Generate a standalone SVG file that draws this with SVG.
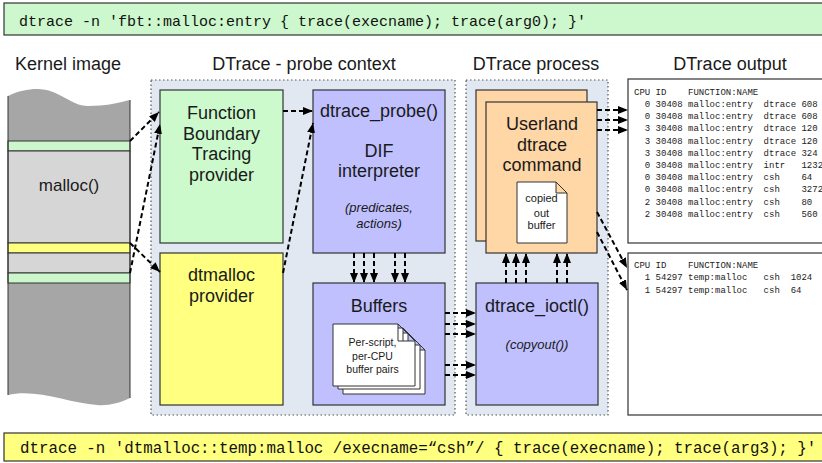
<svg xmlns="http://www.w3.org/2000/svg" width="822" height="463" viewBox="0 0 822 463">
<defs>
<marker id="ah" viewBox="0 0 10 8" refX="10" refY="4" markerWidth="10" markerHeight="8" markerUnits="userSpaceOnUse" orient="auto"><path d="M0,0 L10,4 L0,8 Z" fill="#000"/></marker>
<style>
.cmd{font-family:"Liberation Mono","DejaVu Sans Mono",monospace;fill:#111}
.lbl{font-family:"Liberation Sans",Arial,sans-serif;fill:#1a1a1a;text-anchor:middle;font-size:18px}
.lbl.it{font-style:italic;font-size:13px}
.lbl.sm{font-size:11px}
.lbl.xs{font-size:10.5px}
.lbl.md{font-size:17px}
.box{stroke:#333;stroke-width:1.2}
.ctx{fill:#e1e8f1;stroke:#555;stroke-width:1.2;stroke-dasharray:1.5 2.5}
.out{font-family:"Liberation Mono","DejaVu Sans Mono",monospace;font-size:9px;fill:#222}
.band{stroke:#333;stroke-width:1}
.page{fill:#fff;stroke:#333;stroke-width:1}
.c line{stroke:#000;stroke-width:2;stroke-dasharray:5 3;fill:none;marker-end:url(#ah)}
</style>
</defs>
<rect width="822" height="463" fill="#fff"/>

<g id="cmd-top">
<rect x="4" y="3" width="830" height="32" fill="#cdf7cd" class="box"/>
<text x="19" y="25.5" class="cmd" font-size="15">dtrace -n 'fbt::malloc:entry { trace(execname); trace(arg0); }'</text>
</g>

<g id="headers" class="lbl">
<text x="68" y="70">Kernel image</text>
<text x="304" y="70">DTrace - probe context</text>
<text x="536" y="70">DTrace process</text>
<text x="730" y="70">DTrace output</text>
</g>

<g id="probe-context"><rect x="151" y="80" width="304" height="335" class="ctx"/></g>
<g id="process-context"><rect x="466" y="80" width="142" height="335" class="ctx"/></g>

<g id="kernel">
<path d="M8,96 C18,91 28,89 37,89 C60,89 70,106 88,106 C105,106 118,103 130,100 L130,398 C120,403 108,406 97,405 C70,403 35,388 8,395 Z" fill="#a6a6a6"/>
<rect x="8" y="141" width="122" height="10" fill="#ccf7cc" class="band"/>
<rect x="8" y="151" width="122" height="92" fill="#d6d6d6" class="band"/>
<rect x="8" y="243" width="122" height="10" fill="#ffff80" class="band"/>
<rect x="8" y="253" width="122" height="20" fill="#d6d6d6" class="band"/>
<rect x="8" y="273" width="122" height="10" fill="#ccf7cc" class="band"/>
<line x1="8" y1="96" x2="8" y2="395" class="band"/>
<line x1="130" y1="100" x2="130" y2="398" class="band"/>
<text x="69" y="191" class="lbl md">malloc()</text>
</g>

<g id="fbt">
<rect x="160" y="90" width="123" height="153" fill="#ccfacc" class="box"/>
<text class="lbl"><tspan x="221.5" y="119">Function</tspan><tspan x="221.5" y="139.5">Boundary</tspan><tspan x="221.5" y="160">Tracing</tspan><tspan x="221.5" y="180.5">provider</tspan></text>
</g>

<g id="dtmalloc">
<rect x="160" y="253" width="123" height="152" fill="#ffff80" class="box"/>
<text class="lbl"><tspan x="221.5" y="281">dtmalloc</tspan><tspan x="221.5" y="302">provider</tspan></text>
</g>

<g id="dtrace-probe">
<rect x="313" y="90" width="132" height="163" fill="#c0c0ff" class="box"/>
<text x="379" y="117" class="lbl">dtrace_probe()</text>
<text class="lbl"><tspan x="379" y="157">DIF</tspan><tspan x="379" y="177">interpreter</tspan></text>
<text class="lbl it"><tspan x="379" y="212">(predicates,</tspan><tspan x="379" y="228">actions)</tspan></text>
</g>

<g id="buffers">
<rect x="313" y="283" width="132" height="122" fill="#c0c0ff" class="box"/>
<text x="379" y="312" class="lbl">Buffers</text>
<path d="M343,333 H408 L425,350 V394 H343 Z M408,333 V350 H425" class="page"/>
<path d="M338,328 H403 L420,345 V389 H338 Z M403,328 V345 H420" class="page"/>
<path d="M333,324 H398 L415,341 V386 H333 Z M398,324 V341 H415" class="page"/>
<text class="lbl xs"><tspan x="372.5" y="346">Per-script,</tspan><tspan x="372.5" y="359.5">per-CPU</tspan><tspan x="372.5" y="372.5">buffer pairs</tspan></text>
</g>

<g id="userland">
<rect x="476" y="90" width="111" height="151" fill="#ffd6a5" class="box"/>
<rect x="486" y="102" width="111" height="151" fill="#ffd6a5" class="box"/>
<text class="lbl"><tspan x="542" y="130">Userland</tspan><tspan x="542" y="150.5">dtrace</tspan><tspan x="542" y="170.5">command</tspan></text>
<path d="M517,182 H556 L567,193 V243 H517 Z M556,182 V193 H567" class="page"/>
<text class="lbl sm"><tspan x="541.5" y="202">copied</tspan><tspan x="541.5" y="216.5">out</tspan><tspan x="541.5" y="229">buffer</tspan></text>
</g>

<g id="dtrace-ioctl">
<rect x="476" y="283" width="122" height="122" fill="#c0c0ff" class="box"/>
<text x="537" y="312" class="lbl">dtrace_ioctl()</text>
<text x="537" y="349" class="lbl it">(copyout())</text>
</g>

<g id="output-fbt">
<rect x="628" y="79" width="210" height="164" fill="#fff" class="box"/>
<text class="out" xml:space="preserve"><tspan x="634" y="95">CPU ID    FUNCTION:NAME</tspan><tspan x="634" y="107">  0 30408 malloc:entry  dtrace 608</tspan><tspan x="634" y="119.2">  0 30408 malloc:entry  dtrace 608</tspan><tspan x="634" y="131.4">  3 30408 malloc:entry  dtrace 120</tspan><tspan x="634" y="143.6">  3 30408 malloc:entry  dtrace 120</tspan><tspan x="634" y="155.8">  3 30408 malloc:entry  dtrace 324</tspan><tspan x="634" y="168">  0 30408 malloc:entry  intr   1232</tspan><tspan x="634" y="180.2">  0 30408 malloc:entry  csh    64</tspan><tspan x="634" y="192.4">  0 30408 malloc:entry  csh    3272</tspan><tspan x="634" y="204.6">  2 30408 malloc:entry  csh    80</tspan><tspan x="634" y="216.8">  2 30408 malloc:entry  csh    560</tspan></text>
</g>

<g id="output-dtmalloc">
<rect x="628" y="253" width="210" height="162" fill="#fff" class="box"/>
<text class="out" xml:space="preserve"><tspan x="634" y="267.5">CPU ID    FUNCTION:NAME</tspan><tspan x="634" y="280">  1 54297 temp:malloc   csh  1024</tspan><tspan x="634" y="292.5">  1 54297 temp:malloc   csh  64</tspan></text>
</g>

<g id="cmd-bottom">
<rect x="4" y="433" width="830" height="28" fill="#ffff80" class="box"/>
<text x="20" y="453" class="cmd" font-size="15.8">dtrace -n 'dtmalloc::temp:malloc /execname=“csh”/ { trace(execname); trace(arg3); }'</text>
</g>

<g id="connectors" class="c">
<line x1="130" y1="141" x2="159" y2="112"/>
<line x1="130" y1="273" x2="160" y2="124"/>
<line x1="130" y1="243" x2="160" y2="272"/>
<line x1="283" y1="111" x2="313" y2="111"/>
<line x1="283" y1="273" x2="313" y2="123"/>
<line x1="354" y1="253" x2="354" y2="283"/>
<line x1="364" y1="253" x2="364" y2="283"/>
<line x1="374" y1="253" x2="374" y2="283"/>
<line x1="395" y1="253" x2="395" y2="283"/>
<line x1="405" y1="253" x2="405" y2="283"/>
<line x1="445" y1="313" x2="476" y2="313"/>
<line x1="445" y1="324" x2="476" y2="324"/>
<line x1="445" y1="334" x2="476" y2="334"/>
<line x1="445" y1="365" x2="476" y2="365"/>
<line x1="445" y1="375" x2="476" y2="375"/>
<line x1="506" y1="283" x2="506" y2="253"/>
<line x1="516" y1="283" x2="516" y2="253"/>
<line x1="526" y1="283" x2="526" y2="253"/>
<line x1="557" y1="283" x2="557" y2="253"/>
<line x1="567" y1="283" x2="567" y2="253"/>
<line x1="597" y1="110" x2="628" y2="110"/>
<line x1="597" y1="120" x2="628" y2="120"/>
<line x1="597" y1="130" x2="628" y2="130"/>
<line x1="597" y1="212" x2="627" y2="268"/>
<line x1="597" y1="232" x2="627" y2="290"/>
</g>
</svg>
